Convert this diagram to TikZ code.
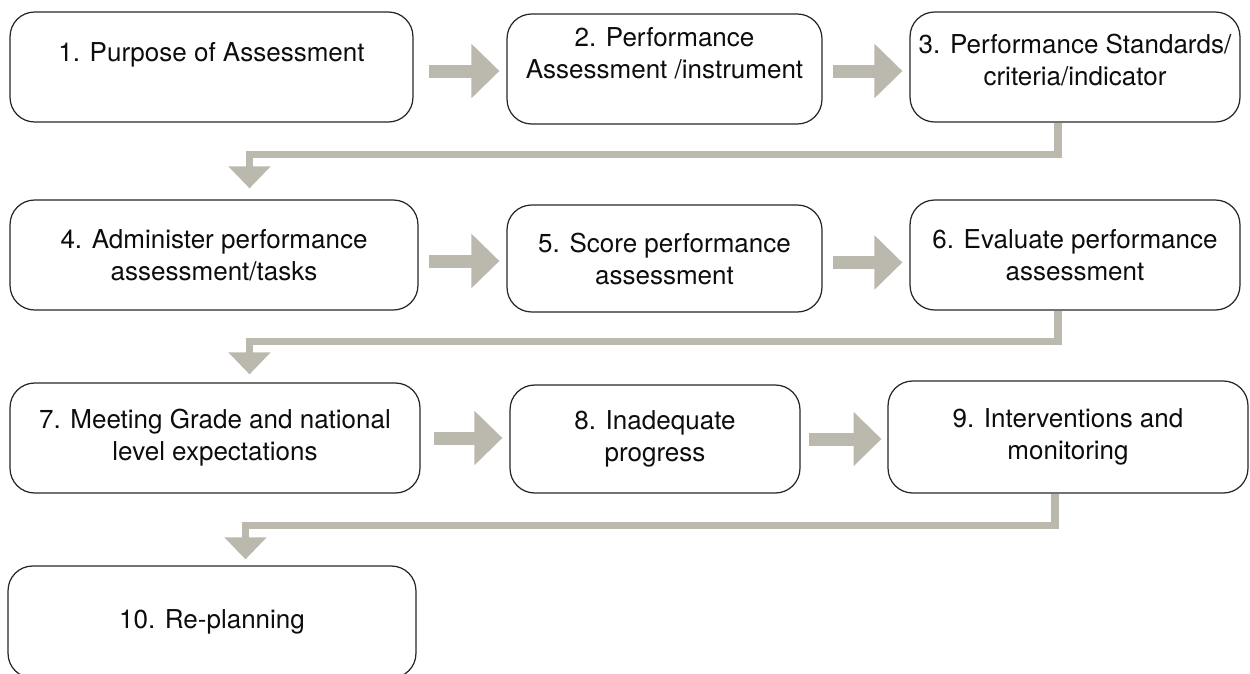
\documentclass[tikz,border=0pt]{standalone}
\usepackage{fontspec}
\setmainfont{TeX Gyre Heros}
\usetikzlibrary{arrows.meta,calc,scopes}
\definecolor{arrowgray}{RGB}{187,184,174}

\begin{document}
\begin{tikzpicture}[
    x=0.02cm,y=-0.02cm,
    stage/.style={draw=black!85,line width=0.7pt,rounded corners=14pt,align=center,
        font=\fontsize{14.8}{18.2}\selectfont,text=black!95,inner sep=0pt,minimum height=2.2cm},
    push/.style={draw=arrowgray,line width=7.4pt,shorten <=5.7pt,shorten >=4pt,
        -{Triangle[length=15.9pt,width=30pt]}},
    wrap/.style={draw=arrowgray,line width=4.3pt,line join=miter,
        -{Triangle[length=12.5pt,width=23.2pt]}},
]
    \useasboundingbox (0,0) rectangle (1250,673);
    \node[stage,minimum width=8.06cm,text depth=17pt] (b1) at (211.5,67) {1. Purpose of Assessment};
    \node[stage,minimum width=6.3cm,text depth=18.3pt] (b2) at (664.5,69) {2. Performance\\Assessment /instrument};
    \node[stage,minimum width=6.6cm,text depth=8.5pt] (b3) at (1075,67) {3. Performance Standards/\\criteria/indicator};
    \node[stage,minimum width=8.16cm] (b4) at (214,255) {4. Administer performance\\assessment/tasks};
    \node[stage,minimum width=6.3cm,minimum height=2.14cm] (b5) at (664.5,258.5) {5. Score performance\\assessment};
    \node[stage,minimum width=6.6cm] (b6) at (1075,255) {6. Evaluate performance\\assessment};
    \node[stage,minimum width=8.2cm] (b7) at (215,438) {7. Meeting Grade and national\\level expectations};
    \node[stage,minimum width=5.8cm,minimum height=2.16cm] (b8) at (655,439) {8. Inadequate\\progress};
    \node[stage,minimum width=7.2cm,minimum height=2.24cm] (b9) at (1068,437) {9. Interventions and\\monitoring};
    \node[stage,minimum width=8.16cm,minimum height=2.24cm] (b10) at (212,622) {10. Re-planning};
    {[push]
        \draw[shorten <=9pt] ($(b1.east)+(0,4)$) -- ($(b1.east -| b2.west)+(0,4)$);
        \draw ($(b2.east)+(0,2)$) -- ($(b2.east -| b3.west)+(0,2)$);
        \draw[shorten <=6.2pt] ($(b4.east)+(0,6)$) -- ($(b4.east -| b5.west)+(0,6)$);
        \draw ($(b5.east)+(0,4)$) -- ($(b5.east -| b6.west)+(0,4)$);
        \draw[shorten <=7.4pt] (b7.east) -- (b7.east -| b8.west);
        \draw[shorten <=4.5pt,shorten >=3.4pt] (b8.east) -- (b8.east -| b9.west);
    }
    {[wrap]
        \draw ($(b3.south)+(-17,0)$) |- ($(b4.north)+(35.5,-45)$) -- ($(b4.north)+(35.5,-11)$);
        \draw ($(b6.south)+(-17,0)$) |- ($(b7.north)+(34.5,-41)$) -- ($(b7.north)+(34.5,-8)$);
        \draw ($(b9.south)+(-13,0)$) |- ($(b10.north)+(33.5,-40)$) -- ($(b10.north)+(33.5,-6)$);
    }
\end{tikzpicture}
\end{document}
